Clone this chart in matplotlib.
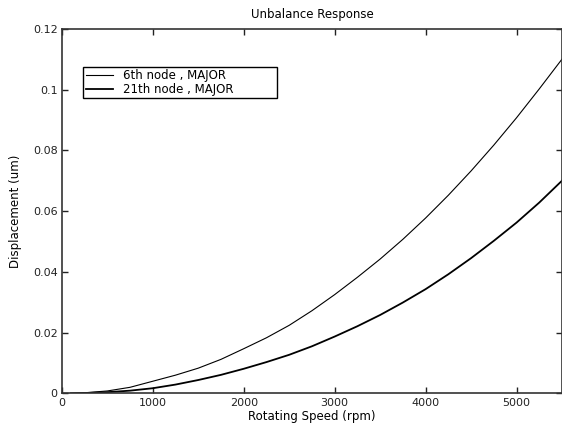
import numpy as np
import matplotlib
matplotlib.use("Agg")
import matplotlib.pyplot as plt

# values
speed = [100, 250, 500, 750, 1000, 1250, 1500, 1750, 2000, 2250, 2500, 2750,
         3000, 3250, 3500, 3750, 4000, 4250, 4500, 4750, 5000, 5250, 5500]
node6 = [0.0, 0.0002, 0.0008, 0.0020, 0.0040, 0.0060, 0.0083, 0.0112, 0.0147, 0.0183,
         0.0224, 0.0272, 0.0325, 0.0382, 0.0442, 0.0507, 0.0577, 0.0652, 0.0732,
         0.0817, 0.0907, 0.1002, 0.1100]
node21 = [0.0, 0.0001, 0.0004, 0.0009, 0.0017, 0.0029, 0.0044, 0.0061, 0.0081, 0.0103,
          0.0127, 0.0155, 0.0187, 0.0221, 0.0258, 0.0299, 0.0343, 0.0392, 0.0445,
          0.0502, 0.0562, 0.0628, 0.0700]

xticks = [0, 1000, 2000, 3000, 4000, 5000]
yticks = [0, 0.02, 0.04, 0.06, 0.08, 0.1, 0.12]
ytick_labels = ['0', '0.02', '0.04', '0.06', '0.08', '0.1', '0.12']

plt.rcParams['font.family'] = ['DejaVu Sans']

fig = plt.figure(figsize=(5.62, 4.29), dpi=100)
ax = fig.add_axes([0.110, 0.083, 0.890, 0.850])

ax.plot(speed, node6, color='black', lw=0.8, label='6th node , MAJOR')
ax.plot(speed, node21, color='black', lw=1.3, label='21th node , MAJOR')

ax.set_xlim(0, 5500)
ax.set_ylim(0, 0.12)
ax.set_xticks(xticks)
ax.set_xticklabels([str(t) for t in xticks])
ax.set_yticks(yticks)
ax.set_yticklabels(ytick_labels)
ax.tick_params(direction='in', length=4, width=1, labelsize=8, top=True, right=True,
               colors='#222222', pad=3)

for s in ax.spines.values():
    s.set_color('#333333')
    s.set_linewidth(1.2)

ax.set_title('Unbalance Response', fontsize=8.5, pad=8)
ax.set_xlabel('Rotating Speed (rpm)', fontsize=8.5, labelpad=2)
ax.set_ylabel('Displacement (um)', fontsize=8.5, labelpad=8)

leg = ax.legend(loc='upper left', bbox_to_anchor=(0.043, 0.83, 0.388, 0.065),
                mode='expand', fontsize=8.5, fancybox=False, framealpha=1,
                edgecolor='black', borderpad=0.2, handlelength=2.3,
                handletextpad=0.9, labelspacing=0.05, borderaxespad=0)
leg.get_frame().set_linewidth(1.0)

fig.savefig('out.png', dpi=100)
